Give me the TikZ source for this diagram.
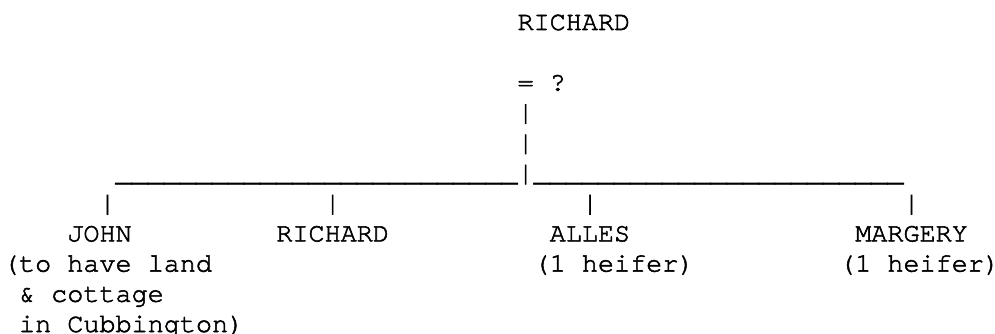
\documentclass[tikz,border=0pt]{standalone}
\usepackage{fontspec}
\newfontfamily\courfam{TeX Gyre Cursor}[FakeBold=2]
\ExplSyntaxOn
\cs_new:Npn \myrepeat #1#2 { \prg_replicate:nn {#1} {#2} }
\ExplSyntaxOff
\begin{document}
\begin{tikzpicture}[x=16.08pt, y=-30.2pt,
  txt/.style={anchor=base west, inner sep=0pt, outer sep=0pt,
    font=\courfam\fontsize{26.8pt}{30.2pt}\selectfont}]
\useasboundingbox (0pt,0pt) rectangle (995pt,-334pt);
\begin{scope}[shift={(3pt,-30pt)}]
% parents
\node[txt] (father) at (32,0) {RICHARD};
\node[txt] (spouse) at (32,2) {= ?};
\node[txt] (bar1) at (32,3) {|};
\node[txt] (bar2) at (32,4) {|};
% sibling line
\node[txt] (lineL) at (7,5) {\myrepeat{25}{\textunderscore}};
\node[txt] (bar3) at (32,5) {|};
\node[txt] (lineR) at (33,5) {\myrepeat{23}{\textunderscore}};
% drops to children
\node[txt] (dropJ) at (6,6) {|};
\node[txt] (dropR) at (20,6) {|};
\node[txt] (dropA) at (36,6) {|};
\node[txt] (dropM) at (56,6) {|};
% children
\node[txt] (john) at (4,7) {JOHN};
\node[txt] (richard) at (17,7) {RICHARD};
\node[txt] (alles) at (34,7) {ALLES};
\node[txt] (margery) at (53,7) {MARGERY};
% notes
\node[txt] (johnA) at (0,8) {(to have land};
\node[txt] (johnB) at (1,9) {\& cottage};
\node[txt] (johnC) at (1,10) {in Cubbington)};
\node[txt] (allesN) at (33,8) {(1 heifer)};
\node[txt] (margeryN) at (52,8) {(1 heifer)};
\end{scope}
\end{tikzpicture}
\end{document}
